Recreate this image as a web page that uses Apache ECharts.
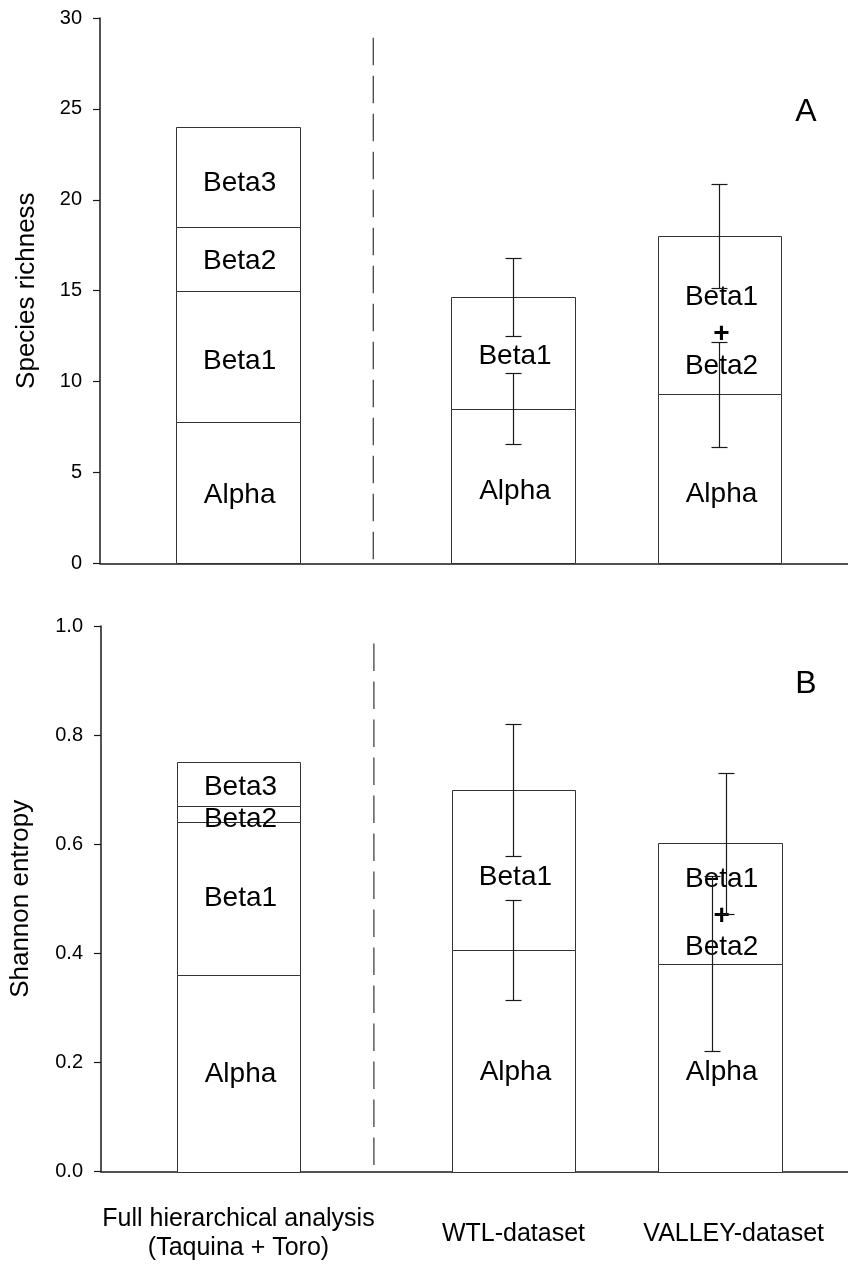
<!DOCTYPE html>
<html><head><meta charset="utf-8">
<script src="https://cdn.jsdelivr.net/npm/echarts@6/dist/echarts.min.js"></script>
<style>html,body{margin:0;padding:0;background:#fff}#c{width:848px;height:1266px}</style>
</head><body><div id="c"></div>
<script>
// ---------- DATA ----------
const categories = ['Full hierarchical analysis\n(Taquina + Toro)', 'WTL-dataset', 'VALLEY-dataset'];
const catPos = [2, 6, 9];          // x position of each bar (axis units)
const dividerPos = 3.97;           // dashed separator position (axis units)

// Species richness components (stack order bottom -> top)
const richSegNames  = [['Alpha', 'Beta1', 'Beta2', 'Beta3'], ['Alpha', 'Beta1'], ['Alpha', 'Beta1+Beta2']];
const richSegValues = [[7.8, 7.2, 3.5, 5.5], [8.5, 6.17], [9.3, 8.7]];
// Shannon entropy components
const entSegNames   = [['Alpha', 'Beta1', 'Beta2', 'Beta3'], ['Alpha', 'Beta1'], ['Alpha', 'Beta1+Beta2']];
const entSegValues  = [[0.36, 0.28, 0.03, 0.08], [0.406, 0.294], [0.381, 0.221]];

// Error bars: [x, mean, sd]
const richErr = [[6, 14.67, 2.15], [6, 8.52, 1.94], [9, 18.0, 2.87], [9, 9.29, 2.87]];
const entErr  = [[6, 0.70, 0.121], [6, 0.406, 0.092], [9.09, 0.602, 0.129], [8.89, 0.381, 0.16]];

// In-bar labels: [x, y, text]
const richLabels = [[2, 20.95, 'Beta3'], [2, 16.65, 'Beta2'], [2, 11.17, 'Beta1'], [2, 3.81, 'Alpha'],
                    [6, 11.42, 'Beta1'], [6, 4.03, 'Alpha'],
                    [9, 14.67, 'Beta1'], [9, 12.65, '+'], [9, 10.91, 'Beta2'], [9, 3.85, 'Alpha']];
const entLabels  = [[2, 0.7055, 'Beta3'], [2, 0.6476, 'Beta2'], [2, 0.5034, 'Beta1'], [2, 0.181, 'Alpha'],
                    [6, 0.5406, 'Beta1'], [6, 0.1833, 'Alpha'],
                    [9, 0.5377, 'Beta1'], [9, 0.4704, '+'], [9, 0.4123, 'Beta2'], [9, 0.1833, 'Alpha']];

const richTicks = { min: 0, max: 30, interval: 5 };
const entTicks  = { min: 0, max: 1, interval: 0.2 };
const xRange    = { min: 0, max: 10.867 };
const richDivider = [28.92, 0.22];
const entDivider  = [0.968, 0.008];

// ---------- BUILD ----------
const FONT = '"Liberation Sans", Arial, Helvetica, sans-serif';
const INK = '#1a1a1a';

function stackSegments(values) {
  const out = [];
  values.forEach((segs, i) => {
    let base = 0;
    segs.forEach(v => { out.push([catPos[i], base, base + v]); base += v; });
  });
  return out;
}
function px(v) { return Math.round(v) + 0.5; }

function renderBar(params, api) {
  const x = api.value(0), lo = api.value(1), hi = api.value(2);
  const p0 = api.coord([x, lo]), p1 = api.coord([x, hi]);
  const w = api.size([1.8, 0])[0];
  const x0 = px(p0[0] - w / 2), x1 = px(p0[0] + w / 2);
  const yb = px(p0[1]), yt = px(p1[1]);
  return { type: 'rect', shape: { x: x0, y: yt, width: x1 - x0, height: yb - yt },
           style: { fill: '#fff', stroke: '#333', lineWidth: 1 } };
}
function renderErr(params, api) {
  const x = api.value(0), m = api.value(1), s = api.value(2);
  const hi = api.coord([x, m + s]), lo = api.coord([x, m - s]);
  const cx = px(hi[0]), yh = px(hi[1]), yl = px(lo[1]);
  const st = { stroke: INK, lineWidth: 1.2 };
  return { type: 'group', children: [
    { type: 'line', shape: { x1: cx, y1: yh, x2: cx, y2: yl }, style: st },
    { type: 'line', shape: { x1: cx - 8, y1: yh, x2: cx + 8, y2: yh }, style: st },
    { type: 'line', shape: { x1: cx - 8, y1: yl, x2: cx + 8, y2: yl }, style: st }
  ]};
}
function makeLabelRenderer(labels) {
  return function (params, api) {
    const p = api.coord([api.value(0), api.value(1)]);
    const t = labels[params.dataIndex][2];
    return { type: 'text', x: p[0] + 2, y: p[1] + 1,
      style: { text: t, align: 'center', verticalAlign: 'middle', fontSize: 28,
               fontFamily: FONT, fill: '#000', fontWeight: t === '+' ? 'bold' : 'normal' } };
  };
}

const labelMap = {};
catPos.forEach((p, i) => { labelMap[p] = categories[i]; });

function xAxisCfg(gridIndex, showLabels) {
  return {
    type: 'value', gridIndex, min: xRange.min, max: xRange.max,
    axisLine: { show: true, onZero: false, lineStyle: { color: INK, width: 1.5 } },
    axisTick: { show: false }, splitLine: { show: false },
    axisLabel: showLabels ? {
      show: true, customValues: catPos, margin: 62, verticalAlign: 'middle',
      fontSize: 25, fontFamily: FONT, color: '#000', lineHeight: 29,
      formatter: v => {
        const t = labelMap[v] || '';
        if (t === 'VALLEY-dataset') return '{v|' + t + '}';
        return t.split('\n').map(s => '{l|' + s + '}').join('\n');
      },
      rich: {
        l: { fontSize: 25, fontFamily: FONT, color: '#000', lineHeight: 29 },
        v: { fontSize: 25, fontFamily: FONT, color: '#000', lineHeight: 29, padding: [0, 0, 0, 28] }
      }
    } : { show: false }
  };
}
function yAxisCfg(gridIndex, ticks, name, nameGap, fmt) {
  return {
    type: 'value', gridIndex, min: ticks.min, max: ticks.max, interval: ticks.interval,
    axisLine: { show: true, lineStyle: { color: INK, width: 1.5 } },
    axisTick: { show: true, length: 7, lineStyle: { color: INK, width: 1.2 } },
    splitLine: { show: false },
    axisLabel: { fontSize: 20, fontFamily: FONT, color: '#000', margin: 18, formatter: fmt },
    name, nameLocation: 'middle', nameRotate: 90, nameGap,
    nameTextStyle: { fontSize: 26, fontFamily: FONT, color: '#000' }
  };
}

function panelSeries(idx, segValues, errs, labels, divider) {
  return [
    { type: 'line', xAxisIndex: idx, yAxisIndex: idx, silent: true, symbol: 'none',
      data: [[dividerPos, divider[0]], [dividerPos, divider[1]]],
      lineStyle: { color: '#333', width: 1.2, type: [27.5, 10.5] }, z: 1 },
    { type: 'custom', xAxisIndex: idx, yAxisIndex: idx, silent: true, clip: false,
      data: stackSegments(segValues), renderItem: renderBar, z: 2 },
    { type: 'custom', xAxisIndex: idx, yAxisIndex: idx, silent: true, clip: false,
      data: labels.map(l => [l[0], l[1]]), renderItem: makeLabelRenderer(labels), z: 3 },
    { type: 'custom', xAxisIndex: idx, yAxisIndex: idx, silent: true, clip: false,
      data: errs, renderItem: renderErr, z: 4 }
  ];
}

const chart = echarts.init(document.getElementById('c'), null, { renderer: 'canvas' });
chart.setOption({
  animation: false,
  backgroundColor: '#fff',
  grid: [
    { left: 100, top: 18, right: 0, height: 545.3 },
    { left: 100, top: 626, right: 0, height: 545.7 }
  ],
  xAxis: [xAxisCfg(0, false), xAxisCfg(1, true)],
  yAxis: [
    yAxisCfg(0, richTicks, 'Species richness', 60, v => String(v)),
    yAxisCfg(1, entTicks, 'Shannon entropy', 67, v => v.toFixed(1))
  ],
  graphic: [
    { type: 'text', x: 806, y: 112, style: { text: 'A', fontSize: 32, fontFamily: FONT, fill: '#000', align: 'center', verticalAlign: 'middle' } },
    { type: 'text', x: 806, y: 684, style: { text: 'B', fontSize: 32, fontFamily: FONT, fill: '#000', align: 'center', verticalAlign: 'middle' } }
  ],
  series: [].concat(
    panelSeries(0, richSegValues, richErr, richLabels, richDivider),
    panelSeries(1, entSegValues, entErr, entLabels, entDivider)
  )
});
</script>
</body></html>
